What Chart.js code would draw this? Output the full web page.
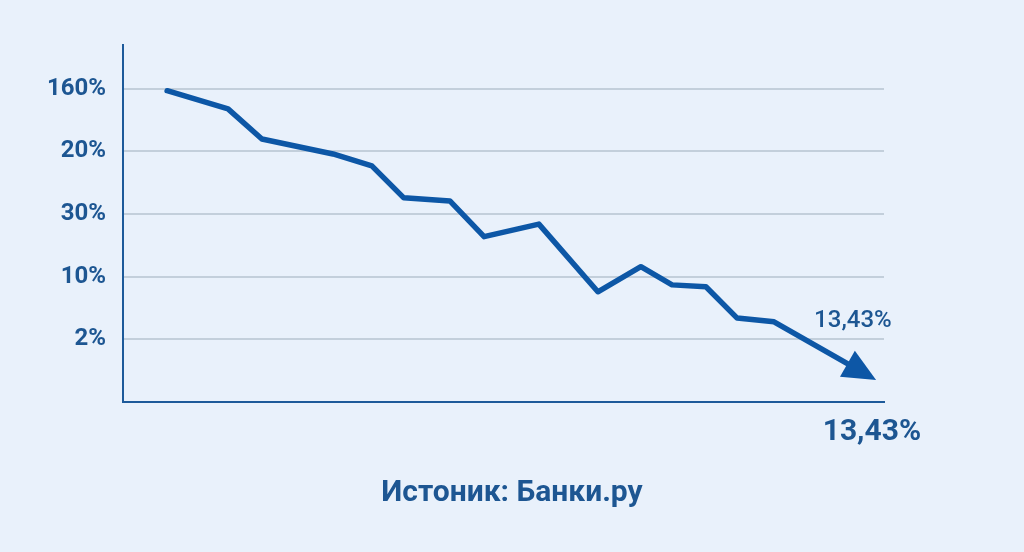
<!DOCTYPE html>
<html>
<head>
<meta charset="utf-8">
<script src="https://cdn.jsdelivr.net/npm/chart.js@4.4.1/dist/chart.umd.min.js"></script>
<style>
  html, body { margin: 0; padding: 0; background: #e9f1fb; }
  #wrap { width: 1024px; height: 552px; position: relative; }
</style>
</head>
<body>
<div id="wrap"><canvas id="rateChart" width="1024" height="552"></canvas></div>
<script>
// ? Dados do gráfico
const xValues = [1.16, 2.76, 3.65, 5.52, 6.54, 7.38, 8.59, 9.49, 10.93, 12.48, 13.61, 14.43, 15.32, 16.14, 17.11, 19.13];
const yValues = [4.97, 4.68, 4.20, 3.96, 3.77, 3.26, 3.21, 2.64, 2.84, 1.76, 2.16, 1.87, 1.84, 1.34, 1.28, 0.58];
const yTickValues = [1, 2, 3, 4, 5];
const yTickLabels = ["2%", "10%", "30%", "20%", "160%"];
const endLabel = "13,43%";
const footerText = "Истоник: Банки.ру";

const BLUE = "#0d57a6";
const TEXT_BLUE = "#1d5692";

// ? Seta no final da linha + textos
const arrowPlugin = {
  id: "arrowEnd",
  afterDatasetsDraw(chart) {
    const ctx = chart.ctx;
    const xs = chart.scales.x;
    const ys = chart.scales.y;
    const n = xValues.length;
    const ex = xs.getPixelForValue(xValues[n - 1]);
    const ey = ys.getPixelForValue(yValues[n - 1]);
    const px = xs.getPixelForValue(xValues[n - 2]);
    const py = ys.getPixelForValue(yValues[n - 2]);
    const ang = Math.atan2(ey - py, ex - px);
    const cos = Math.cos(ang), sin = Math.sin(ang);
    const back = 4, fwd = 29, half = 15;
    const tx = ex + fwd * cos, ty = ey + fwd * sin;
    const bx = ex - back * cos, by = ey - back * sin;
    ctx.save();
    ctx.fillStyle = BLUE;
    ctx.beginPath();
    ctx.moveTo(tx, ty);
    ctx.lineTo(bx + half * sin, by - half * cos);
    ctx.lineTo(bx - half * sin, by + half * cos);
    ctx.closePath();
    ctx.fill();

    ctx.fillStyle = TEXT_BLUE;
    ctx.textAlign = "center";
    ctx.textBaseline = "middle";
    ctx.font = "500 24px Roboto";
    ctx.fillText(endLabel, ex + 2, ey - 45);
    ctx.font = "bold 30px Roboto";
    ctx.fillText(endLabel, ex + 21, ey + 67);
    ctx.font = "bold 30px Roboto";
    ctx.fillText(footerText, chart.width / 2, 493);
    ctx.restore();
  },
};

const ctxRate = document.getElementById("rateChart").getContext("2d");
const rateChart = new Chart(ctxRate, {
  type: "line",
  data: {
    datasets: [
      {
        data: xValues.map((x, i) => ({ x: x, y: yValues[i] })),
        borderColor: BLUE,
        borderWidth: 5.5,
        pointRadius: 0,
        tension: 0,
        fill: false,
        borderJoinStyle: "round",
        borderCapStyle: "round",
      },
    ],
  },
  options: {
    responsive: false,
    animation: false,
    layout: { padding: { left: 0, top: 45, right: 140, bottom: 150 } },
    plugins: {
      legend: { display: false },
      tooltip: { enabled: false },
    },
    scales: {
      x: {
        type: "linear",
        min: 0,
        max: 20,
        ticks: { display: false },
        grid: { display: false },
        border: { display: true, color: "#1d5a9a", width: 2 },
        afterFit(scale) { scale.height = 0; },
      },
      y: {
        min: 0,
        max: 5.7,
        afterBuildTicks(scale) {
          scale.ticks = yTickValues.map((v) => ({ value: v }));
        },
        ticks: {
          padding: 17,
          color: TEXT_BLUE,
          font: { family: "Roboto", size: 24, weight: "bold" },
          callback: (v) => yTickLabels[yTickValues.indexOf(v)] || "",
        },
        grid: { color: "#c3cfdb", lineWidth: 2, drawTicks: false },
        border: { display: true, color: "#1d5a9a", width: 2 },
        afterFit(scale) { scale.width = 123; },
      },
    },
  },
  plugins: [arrowPlugin],
});
</script>
</body>
</html>
